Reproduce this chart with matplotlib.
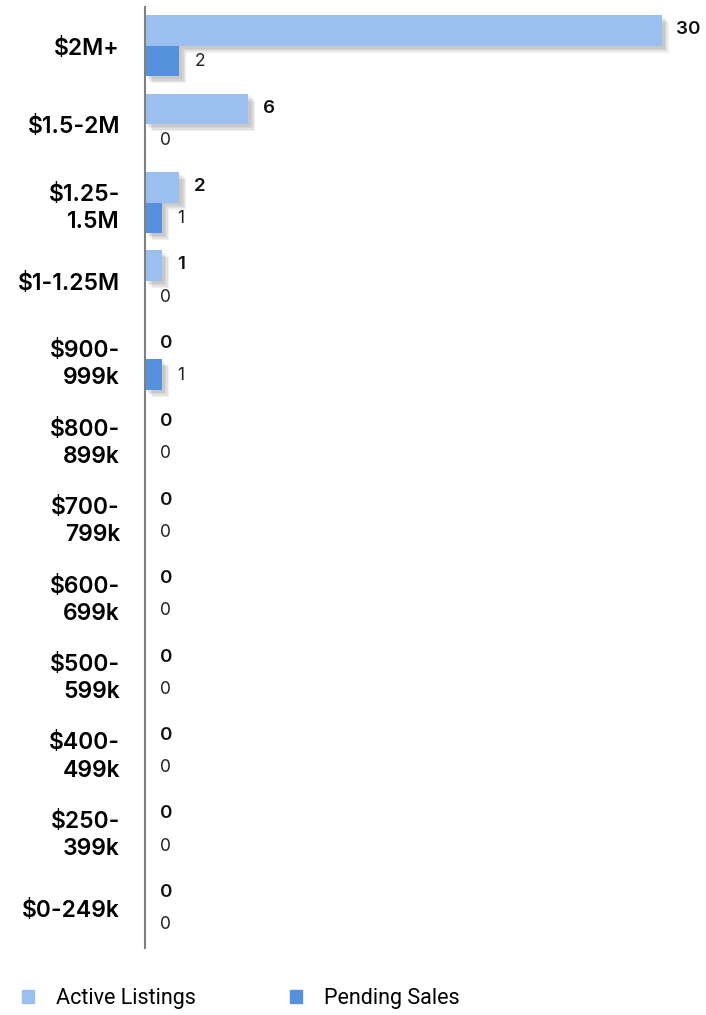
"""Active listings vs pending sales by price band."""

import numpy as np
import matplotlib.pyplot as plt
import matplotlib.patheffects as pe
from matplotlib.patches import Patch

categories = ["$2M+", "$1.5-2M", "$1.25-\n1.5M", "$1-1.25M", "$900-\n999k",
              "$800-\n899k", "$700-\n799k", "$600-\n699k", "$500-\n599k",
              "$400-\n499k", "$250-\n399k", "$0-249k"]
active = [30, 6, 2, 1, 0, 0, 0, 0, 0, 0, 0, 0]
pending = [2, 0, 1, 0, 1, 0, 0, 0, 0, 0, 0, 0]

ACTIVE_COLOR = "#9bc0f0"
PENDING_COLOR = "#5591dc"
LABEL_FONT = ["Inter", "DejaVu Sans"]

fig = plt.figure(figsize=(7.06, 10.15), dpi=100)
ax = fig.add_axes([145 / 706, 67 / 1015, 561 / 706, 941 / 1015])

y = np.arange(len(categories))
h = 0.39
# soft drop shadow built from a few faint offset copies
shadow = [pe.SimplePatchShadow(offset=(d, -d), shadow_rgbFace="#555555", alpha=0.09)
          for d in (5, 4, 3, 2)] + [pe.Normal()]

bars_a = ax.barh(y - 0.2, active, height=h, color=ACTIVE_COLOR, zorder=2)
bars_p = ax.barh(y + 0.19, pending, height=h, color=PENDING_COLOR, zorder=2)
for b in list(bars_a) + list(bars_p):
    if b.get_width() > 0:
        b.set_path_effects(shadow)

for i, (a, p) in enumerate(zip(active, pending)):
    ax.annotate(str(a), (a, i - 0.21), xytext=(10.5, 0), textcoords="offset points",
                ha="left", va="center", fontsize=13.5, fontweight="semibold",
                family=LABEL_FONT, color="#111111")
    ax.annotate(str(p), (p, i + 0.2), xytext=(11, 0), textcoords="offset points",
                ha="left", va="center", fontsize=12.5, fontweight="normal",
                family=LABEL_FONT, color="#222222")

ax.set_xlim(0, 561 / 17.23)
ax.set_ylim(len(categories) - 0.5, -0.5)
ax.set_yticks(y)
ax.set_yticklabels(categories, fontsize=16.5, fontweight="semibold",
                   family=LABEL_FONT, linespacing=1.3)
ax.tick_params(axis="y", length=0, pad=18)
ax.set_xticks([])
for s in ["top", "right", "bottom"]:
    ax.spines[s].set_visible(False)
ax.spines["left"].set_color("#808080")
ax.spines["left"].set_linewidth(1.5)

handles = [Patch(color=ACTIVE_COLOR, label="Active Listings"),
           Patch(color=PENDING_COLOR, label="Pending Sales")]
fig.legend(handles=handles, loc="lower left", bbox_to_anchor=(0.004, -0.013), ncol=2,
           frameon=False, handlelength=0.55, handleheight=0.55, handletextpad=1.0,
           columnspacing=4.4,
           prop={"family": ["Roboto", "DejaVu Sans"], "size": 15.5})

fig.savefig("out.png", dpi=100)
